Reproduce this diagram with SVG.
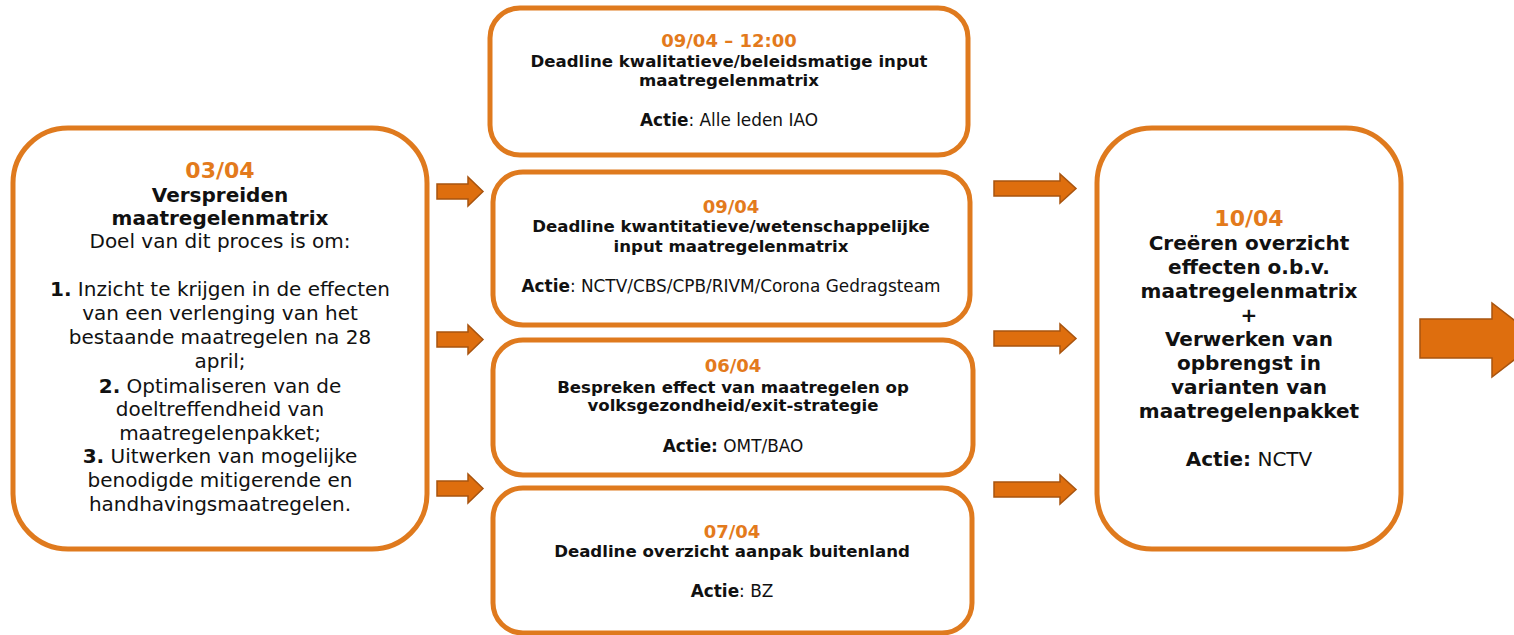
<svg xmlns="http://www.w3.org/2000/svg" width="1514" height="635" viewBox="0 0 1514 635">
<style>
.box{fill:#fff;stroke:#DF7A1E;stroke-width:5}
.arr{fill:#DE6E0E;stroke:#A8540F;stroke-width:1.5;stroke-linejoin:miter}
text{font-family:"DejaVu Sans","Liberation Sans",sans-serif;fill:#111;text-anchor:middle}
.date{fill:#E37A1C;font-weight:bold}
.b{font-weight:bold}
.big{font-size:20px}
.mid{font-size:16.6px}
.act{font-size:16.9px}
.d22{font-size:22px}
.d18{font-size:18px}
</style>
<rect width="1514" height="635" fill="#fff"/>
<g id="connectors">
<path class="arr" d="M437,184 H468 V177 L483,191.5 L468,206 V199 H437 Z"/>
<path class="arr" d="M437,332 H468 V325 L483,339.5 L468,354 V347 H437 Z"/>
<path class="arr" d="M437,481 H468 V474 L483,488.5 L468,503 V496 H437 Z"/>
<path class="arr" d="M994,181 H1060 V174 L1076,188.5 L1060,203 V196 H994 Z"/>
<path class="arr" d="M994,331 H1060 V324 L1076,338.5 L1060,353 V346 H994 Z"/>
<path class="arr" d="M994,482 H1060 V475 L1076,489.5 L1060,504 V497 H994 Z"/>
<path class="arr" d="M1420,319 H1492 V303 L1540,340 L1492,377 V358 H1420 Z"/>
</g>
<g id="node-0304">
<rect class="box" x="13" y="128" width="414" height="421" rx="55" ry="55"/>
<text class="date d22" x="220" y="178">03/04</text>
<text class="b big" x="220" y="202">Verspreiden</text>
<text class="b big" x="220" y="225">maatregelenmatrix</text>
<text class="big" x="220" y="248">Doel van dit proces is om:</text>
<text class="big" x="220" y="296"><tspan class="b">1.</tspan> Inzicht te krijgen in de effecten</text>
<text class="big" x="220" y="320">van een verlenging van het</text>
<text class="big" x="220" y="344">bestaande maatregelen na 28</text>
<text class="big" x="220" y="368">april;</text>
<text class="big" x="220" y="393"><tspan class="b">2.</tspan> Optimaliseren van de</text>
<text class="big" x="220" y="416">doeltreffendheid van</text>
<text class="big" x="220" y="440">maatregelenpakket;</text>
<text class="big" x="220" y="463"><tspan class="b">3.</tspan> Uitwerken van mogelijke</text>
<text class="big" x="220" y="487">benodigde mitigerende en</text>
<text class="big" x="220" y="511">handhavingsmaatregelen.</text>
</g>
<g id="node-0904-1200">
<rect class="box" x="490" y="8" width="478" height="147" rx="30" ry="30"/>
<text class="date d18" x="729" y="47">09/04 – 12:00</text>
<text class="b mid" x="729" y="67">Deadline kwalitatieve/beleidsmatige input</text>
<text class="b mid" x="729" y="86">maatregelenmatrix</text>
<text class="act" x="729" y="126"><tspan class="b">Actie</tspan>: Alle leden IAO</text>
</g>
<g id="node-0904">
<rect class="box" x="493" y="172" width="477" height="153" rx="30" ry="30"/>
<text class="date d18" x="731" y="213">09/04</text>
<text class="b mid" x="731" y="232">Deadline kwantitatieve/wetenschappelijke</text>
<text class="b mid" x="731" y="252">input maatregelenmatrix</text>
<text class="act" x="731" y="292"><tspan class="b">Actie</tspan>: NCTV/CBS/CPB/RIVM/Corona Gedragsteam</text>
</g>
<g id="node-0604">
<rect class="box" x="493" y="340" width="480" height="135" rx="30" ry="30"/>
<text class="date d18" x="733" y="372">06/04</text>
<text class="b mid" x="733" y="393">Bespreken effect van maatregelen op</text>
<text class="b mid" x="733" y="411">volksgezondheid/exit-strategie</text>
<text class="act" x="733" y="452"><tspan class="b">Actie:</tspan> OMT/BAO</text>
</g>
<g id="node-0704">
<rect class="box" x="493" y="488" width="479" height="145" rx="30" ry="30"/>
<text class="date d18" x="732" y="538">07/04</text>
<text class="b mid" x="732" y="557">Deadline overzicht aanpak buitenland</text>
<text class="act" x="732" y="597"><tspan class="b">Actie</tspan>: BZ</text>
</g>
<g id="node-1004">
<rect class="box" x="1097" y="128" width="304" height="421" rx="55" ry="55"/>
<text class="date d22" x="1249" y="226">10/04</text>
<text class="b big" x="1249" y="250">Creëren overzicht</text>
<text class="b big" x="1249" y="274">effecten o.b.v.</text>
<text class="b big" x="1249" y="298">maatregelenmatrix</text>
<text class="b big" x="1249" y="322">+</text>
<text class="b big" x="1249" y="346">Verwerken van</text>
<text class="b big" x="1249" y="370">opbrengst in</text>
<text class="b big" x="1249" y="394">varianten van</text>
<text class="b big" x="1249" y="418">maatregelenpakket</text>
<text class="big" x="1249" y="466"><tspan class="b">Actie:</tspan> NCTV</text>
</g>
</svg>
